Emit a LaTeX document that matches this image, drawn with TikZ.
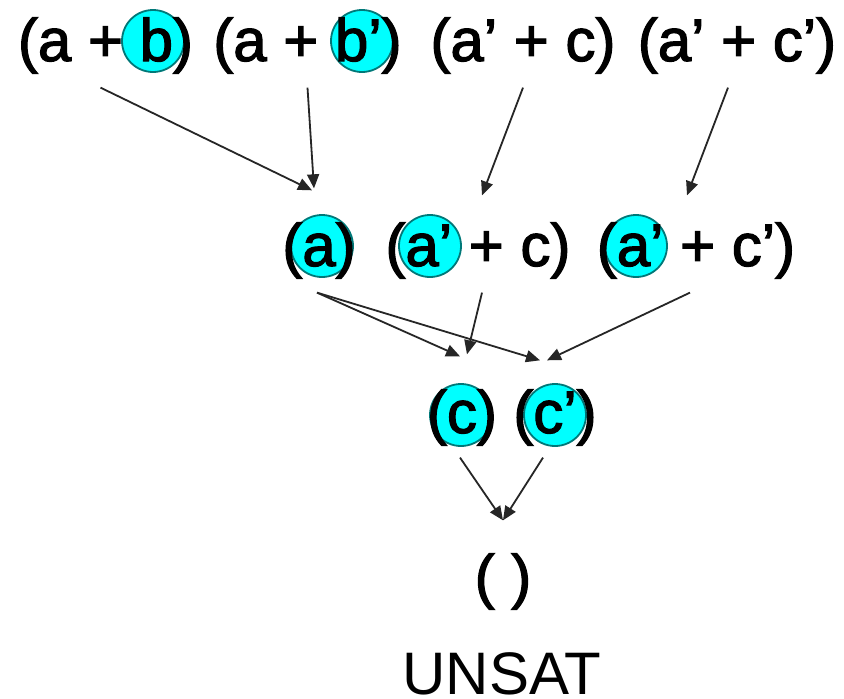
\documentclass[tikz,border=0pt]{standalone}
\usepackage{fontspec}
\setmainfont{Liberation Sans}
\newfontfamily\clausefont[FakeBold=2]{Liberation Sans}
\usepackage{xcolor}
\usepackage{tikz}
\usetikzlibrary{arrows.meta,calc}

\definecolor{litfill}{HTML}{00FFFF}
\definecolor{litdraw}{HTML}{007878}

\begin{document}
\begin{tikzpicture}[
  x=1pt, y=-1pt,
  font=\fontsize{60}{72}\selectfont,
  clause/.style={
    inner sep=0pt,
    anchor=base,
    font=\fontsize{60}{72}\clausefont
  },
  lit/.style={
    circle,
    draw=litdraw,
    line width=1.8pt,
    fill=litfill,
    minimum size=62pt,
    inner sep=0pt
  },
  arrow/.style={
    -{Triangle[length=14pt,width=12pt]},
    line width=1.8pt,
    black!85
  }
]
\fill[white] (0,0) rectangle (844,699);
\useasboundingbox (0,0) rectangle (844,699);

%---------------------------------
% Resolved literals
%---------------------------------
\node[lit] (lb)   at (153,41)  {};
\node[lit] (lbp)  at (362,41)  {};
\node[lit] (la)   at (322,246) {};
\node[lit] (lap1) at (430,246) {};
\node[lit] (lap2) at (636,246) {};
\node[lit] (lc)   at (461,415) {};
\node[lit] (lcp)  at (555,415) {};

%---------------------------------
% Clauses
%---------------------------------
\node[clause] (r1a) at (105.5,61) {(a + b)};
\node[clause] (r1b) at (307.5,61) {(a + b’)};
\node[clause] (r1c) at (523,61)   {(a’ + c)};
\node[clause] (r1d) at (737,61)   {(a’ + c’)};

\node[clause] (r2a) at (319,266)  {(a)};
\node[clause] (r2b) at (478,266)  {(a’ + c)};
\node[clause] (r2c) at (696,266)  {(a’ + c’)};

\node[clause] (r3a) at (462,433)  {(c)};
\node[clause] (r3b) at (555,433)  {(c’)};

\node[clause] (r4)  at (503,597)  {( )};
\node[inner sep=0pt, anchor=base] (res) at (502,694) {UNSAT};

%---------------------------------
% Resolution steps
%---------------------------------
\draw[arrow] ($(r1a.south)+(-5,14)$) -- ($(r2a.north)+(-7,-32)$);
\draw[arrow] ($(r1b.south)+(0,14)$)  -- ($(r2a.north)+(-5,-34)$);
\draw[arrow] ($(r1c.south)+(0,14)$)  -- ($(r2b.north)+(4,-27)$);
\draw[arrow] ($(r1d.south)+(-9,14)$) -- ($(r2c.north)+(-9,-27)$);

\draw[arrow] ($(r2a.south)+(-2,14)$) -- ($(r3a.north)+(-2,-33)$);
\draw[arrow] ($(r2a.south)+(-2,14)$) -- ($(r3b.north)+(-15,-29)$);
\draw[arrow] ($(r2b.south)+(4,14)$)  -- ($(r3a.north)+(5,-35)$);
\draw[arrow] ($(r2c.south)+(-6,14)$) -- ($(r3b.north)+(-8,-29)$);

\draw[arrow] ($(r3a.south)+(-2,12)$)  -- ($(r4.north)+(0,-33)$);
\draw[arrow] ($(r3b.south)+(-12,12)$) -- ($(r4.north)+(0,-33)$);

\end{tikzpicture}
\end{document}
